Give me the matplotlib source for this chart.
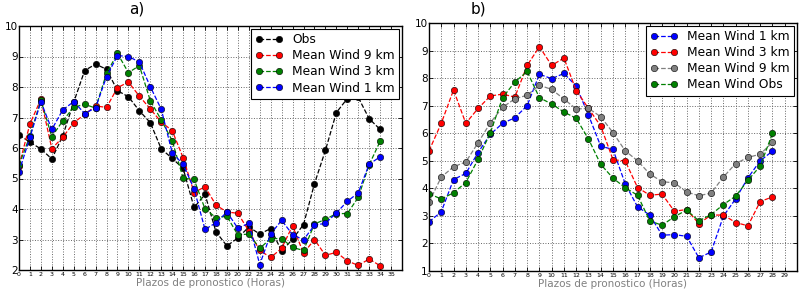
import matplotlib
matplotlib.use("Agg")
import matplotlib.pyplot as plt

# ---- Panel a data ----
hours_a = [str(h) for h in list(range(0, 21)) + list(range(22, 36))]
obs_a = [6.43, 6.19, 5.97, 5.64, 6.40, 7.50, 8.54, 8.75, 8.58, 7.88, 7.68, 7.22, 6.83, 5.97,
         5.66, 5.33, 4.05, 4.48, 3.25, 2.79, 3.05, 3.41, 3.18, 3.36, 2.62, 3.01, 3.49, 4.83,
         5.92, 7.16, 7.62, 7.66, 6.96, 6.61]
w9_a = [5.42, 6.79, 7.60, 5.98, 6.35, 6.83, 7.10, 7.38, 7.33, 7.98, 8.16, 7.70, 7.28, 6.85,
        6.57, 5.68, 4.54, 4.73, 4.13, 3.90, 3.86, 3.28, 2.64, 2.41, 2.71, 3.45, 2.55, 3.00,
        2.48, 2.58, 2.30, 2.15, 2.36, 2.14]
w3_a = [5.44, 6.40, 7.57, 6.37, 6.89, 7.34, 7.43, 7.31, 8.45, 9.10, 8.47, 8.70, 7.55, 6.92,
        6.24, 5.01, 4.97, 4.00, 3.72, 3.76, 3.15, 3.18, 2.71, 3.03, 3.03, 2.74, 2.64, 3.51,
        3.66, 3.85, 3.85, 4.38, 5.45, 6.22]
w1_a = [5.22, 6.35, 7.52, 6.61, 7.25, 7.52, 7.13, 7.32, 8.34, 9.03, 9.00, 8.82, 8.01, 7.27,
        5.85, 5.46, 4.66, 3.33, 3.55, 3.90, 3.37, 3.53, 2.18, 3.18, 3.63, 3.16, 2.99, 3.47,
        3.53, 3.87, 4.25, 4.53, 5.47, 5.71]

# ---- Panel b data ----
hours_b = [str(h) for h in range(0, 30)]
w1_b = [2.78, 3.15, 4.32, 4.54, 5.30, 5.96, 6.36, 6.56, 7.00, 8.14, 7.98, 8.17, 7.71, 6.66,
        5.53, 5.41, 4.16, 3.33, 3.03, 2.30, 2.32, 2.26, 1.48, 1.69, 2.99, 3.62, 4.38, 5.00, 5.35]
w3_b = [5.36, 6.36, 7.57, 6.36, 6.90, 7.35, 7.42, 7.31, 8.46, 9.14, 8.46, 8.73, 7.55, 6.90,
        6.26, 5.04, 4.99, 4.03, 3.75, 3.79, 3.17, 3.23, 2.72, 3.03, 3.03, 2.76, 2.64, 3.52, 3.69]
w9_b = [3.49, 4.41, 4.78, 4.96, 5.65, 6.38, 6.94, 7.25, 7.38, 7.74, 7.59, 7.24, 6.88, 6.90,
        6.60, 6.02, 5.36, 5.00, 4.52, 4.24, 4.20, 3.87, 3.73, 3.83, 4.41, 4.90, 5.12, 5.24, 5.67]
obs_b = [3.81, 3.61, 3.84, 4.21, 5.05, 6.02, 7.29, 7.86, 8.24, 7.29, 7.06, 6.77, 6.54, 5.79,
         4.87, 4.37, 4.02, 3.75, 2.82, 2.66, 2.97, 3.21, 2.82, 3.05, 3.41, 3.72, 4.29, 4.81, 5.99]

fig = plt.figure(figsize=(8.0, 2.91), dpi=100)
ax_a = fig.add_axes([19/800, 21/291, 383/800, 244/291])
ax_b = fig.add_axes([429/800, 20/291, 368/800, 248/291])

style = dict(linestyle='--', marker='o', markersize=4.6, linewidth=0.9,
             markeredgecolor='k', markeredgewidth=0.4)

def plot_panel(ax, series, hours, xmax, ymin):
    for vals, color, label in series:
        ax.plot(range(len(vals)), vals, color=color, markerfacecolor=color,
                label=label, **style)
    ax.set_xlim(0, xmax)
    ax.set_ylim(ymin, 10)
    ax.set_xticks(range(len(hours)))
    ax.set_xticklabels(hours, fontsize=4.5)
    ax.set_yticks(range(ymin, 11))
    ax.tick_params(axis='y', labelsize=7.5, pad=1)
    ax.tick_params(axis='x', pad=1.5)
    ax.tick_params(direction='in', top=True, right=True, length=3, width=0.6)
    ax.grid(True, linestyle=':', color='#666666', linewidth=0.7)
    ax.set_axisbelow(True)
    for s in ax.spines.values():
        s.set_linewidth(1.0)
    ax.set_xlabel('Plazos de pronostico (Horas)', fontsize=7.5, color='#808080', labelpad=1)
    leg = ax.legend(loc='upper right', numpoints=2, fontsize=8.8, frameon=True,
                    fancybox=False, framealpha=1, edgecolor='k', borderaxespad=0.25,
                    handlelength=2.2, labelspacing=0.25, borderpad=0.35)
    leg.get_frame().set_linewidth(0.8)

plot_panel(ax_a, [(obs_a, 'k', 'Obs'), (w9_a, 'r', 'Mean Wind 9 km'),
                  (w3_a, 'g', 'Mean Wind 3 km'), (w1_a, 'b', 'Mean Wind 1 km')],
           hours_a, 35, 2)
plot_panel(ax_b, [(w1_b, 'b', 'Mean Wind 1 km'), (w3_b, 'r', 'Mean Wind 3 km'),
                  (w9_b, 'gray', 'Mean Wind 9 km'), (obs_b, 'g', 'Mean Wind Obs')],
           hours_b, 30, 1)

fig.text(137/800, 1 - 9/291, 'a)', fontsize=11, ha='center', va='center')
fig.text(478/800, 1 - 9/291, 'b)', fontsize=11, ha='center', va='center')

fig.savefig('out.png', dpi=100)
